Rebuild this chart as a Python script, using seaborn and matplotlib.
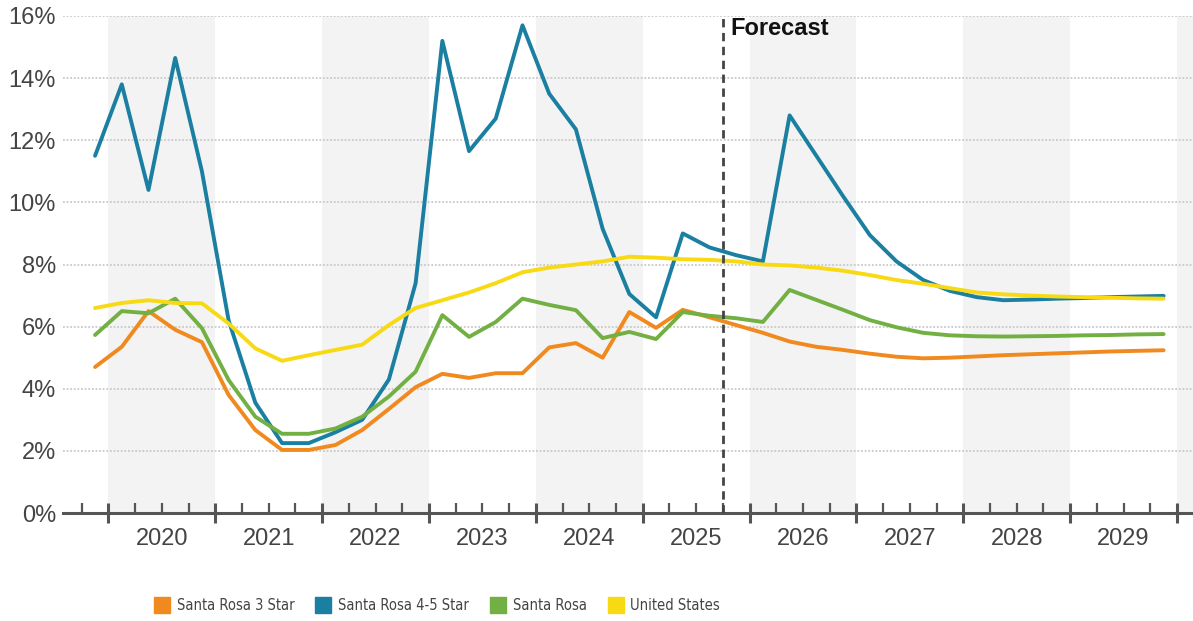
import numpy as np
import pandas as pd
import matplotlib
matplotlib.use("Agg")
import matplotlib.pyplot as plt
from matplotlib.lines import Line2D
from matplotlib.ticker import FixedLocator, FixedFormatter
import seaborn as sns

# quarterly series, 2019 Q4 .. 2029 Q4 (values in %)
quarters = [str(p) for p in pd.period_range("2019Q4", "2029Q4", freq="Q")]

sr_3star = [4.7, 5.35, 6.5, 5.9, 5.5, 3.8, 2.67, 2.03, 2.03, 2.19, 2.67, 3.35, 4.05,
            4.48, 4.35, 4.5, 4.5, 5.33, 5.47, 5.0, 6.47, 5.96, 6.54, 6.3, 6.05, 5.8,
            5.52, 5.35, 5.25, 5.13, 5.03, 4.98, 5.0, 5.04, 5.08, 5.11, 5.14, 5.17,
            5.2, 5.22, 5.24]
sr_45star = [11.5, 13.8, 10.4, 14.65, 11.0, 6.2, 3.55, 2.25, 2.25, 2.6, 3.0, 4.3, 7.4,
             15.2, 11.65, 12.7, 15.7, 13.5, 12.35, 9.15, 7.05, 6.3, 9.0, 8.55, 8.3, 8.1,
             12.8, 11.5, 10.2, 8.95, 8.1, 7.5, 7.15, 6.95, 6.85, 6.87, 6.9, 6.92,
             6.95, 6.97, 6.99]
santa_rosa = [5.73, 6.5, 6.43, 6.9, 5.95, 4.28, 3.1, 2.55, 2.55, 2.72, 3.1, 3.75, 4.55,
              6.37, 5.67, 6.15, 6.9, 6.7, 6.53, 5.63, 5.83, 5.6, 6.47, 6.35, 6.27, 6.15,
              7.18, 6.86, 6.54, 6.21, 5.98, 5.8, 5.72, 5.69, 5.68, 5.69, 5.7, 5.72,
              5.73, 5.75, 5.76]
united_states = [6.6, 6.76, 6.85, 6.76, 6.75, 6.1, 5.3, 4.9, 5.08, 5.25, 5.42, 6.05, 6.6,
                 6.85, 7.1, 7.4, 7.75, 7.9, 8.0, 8.1, 8.25, 8.22, 8.17, 8.15, 8.1, 8.0,
                 7.97, 7.9, 7.8, 7.66, 7.5, 7.38, 7.24, 7.1, 7.04, 7.0, 6.97, 6.95,
                 6.93, 6.91, 6.9]

series_names = ["Santa Rosa 3 Star", "Santa Rosa 4-5 Star", "Santa Rosa", "United States"]
series_colors = ["#F0891E", "#1A7FA1", "#72B043", "#F7DA14"]
years = list(range(2020, 2030))
forecast_quarter = "2025Q3"  # last actual quarter

# ---------------------------------------------------------
df = pd.DataFrame({
    "pos": list(range(len(quarters))) * 4,
    "series": np.repeat(series_names, len(quarters)),
    "value": sr_3star + sr_45star + santa_rosa + united_states,
})

sns.set_style("white")
plt.rcParams["font.family"] = ["Liberation Sans", "DejaVu Sans"]

fig = plt.figure(figsize=(11.93, 6.21), dpi=100)
ax = fig.add_axes([63 / 1193, 1 - 513 / 621, 1 - 63 / 1193, (513 - 16) / 621])

# alternating year bands (2020, 2022, ... shaded)
for k in range(len(years) + 1):
    start = 0.5 + 4 * k
    if k % 2 == 0:
        ax.axvspan(start, start + 4, color="#f3f3f3", zorder=0, lw=0)

sns.lineplot(data=df, x="pos", y="value", hue="series", hue_order=series_names,
             palette=dict(zip(series_names, series_colors)), linewidth=2.8,
             legend=False, sort=False, ax=ax, zorder=3)

ax.set_xlim(-1.2, 41.1)
ax.set_ylim(0, 16)
ax.set_xlabel("")
ax.set_ylabel("")

ax.set_yticks(range(0, 17, 2))
ax.set_yticklabels([f"{v}%" for v in range(0, 17, 2)])
ax.yaxis.grid(True, linestyle=(0, (1, 1)), color="#c9c9c9", linewidth=1.3)
ax.set_axisbelow(True)

for s in ["top", "right", "left"]:
    ax.spines[s].set_visible(False)
ax.spines["bottom"].set_color("#555555")
ax.spines["bottom"].set_linewidth(2.2)

# year boundaries as major ticks, quarter boundaries as minor ticks with year labels
major = [0.5 + 4 * k for k in range(len(years) + 1)]
minor = [b + q for b in [-3.5] + major for q in (1, 2, 3) if -1.2 < b + q < 41.1]
minor_labels = [str(years[int((m - 2.5) // 4)])
                if (m - 2.5) % 4 == 0 and 0 <= (m - 2.5) // 4 < len(years) else ""
                for m in minor]
ax.xaxis.set_major_locator(FixedLocator(major))
ax.xaxis.set_major_formatter(FixedFormatter([""] * len(major)))
ax.xaxis.set_minor_locator(FixedLocator(minor))
ax.xaxis.set_minor_formatter(FixedFormatter(minor_labels))
ax.tick_params(axis="x", which="major", direction="inout", length=15, width=2.2,
               color="#555555", bottom=True)
ax.tick_params(axis="x", which="minor", direction="in", length=7, width=1.6,
               color="#555555", bottom=True, labelsize=17, labelcolor="#444444", pad=11)
ax.tick_params(axis="y", length=0, labelsize=17, labelcolor="#444444", pad=5)

# forecast marker
fx = quarters.index(forecast_quarter) + 0.5
ax.axvline(fx, color="#444444", linestyle=(0, (3, 2)), linewidth=2, zorder=4)
ax.text(fx + 0.3, 15.6, "Forecast", fontsize=17, fontweight="bold", va="center",
        color="#111111")

handles = [Line2D([], [], marker="s", markersize=11, linestyle="none", color=c)
           for c in series_colors]
fig.legend(handles, series_names, loc="center left",
           bbox_to_anchor=(143 / 1193, 1 - 606 / 621), ncol=4, frameon=False,
           prop={"family": "DejaVu Sans", "stretch": "condensed", "size": 10.5},
           handlelength=0.8, handletextpad=0.6, columnspacing=1.6,
           labelcolor="#444444")

fig.savefig("out.png", dpi=100, facecolor="white")
